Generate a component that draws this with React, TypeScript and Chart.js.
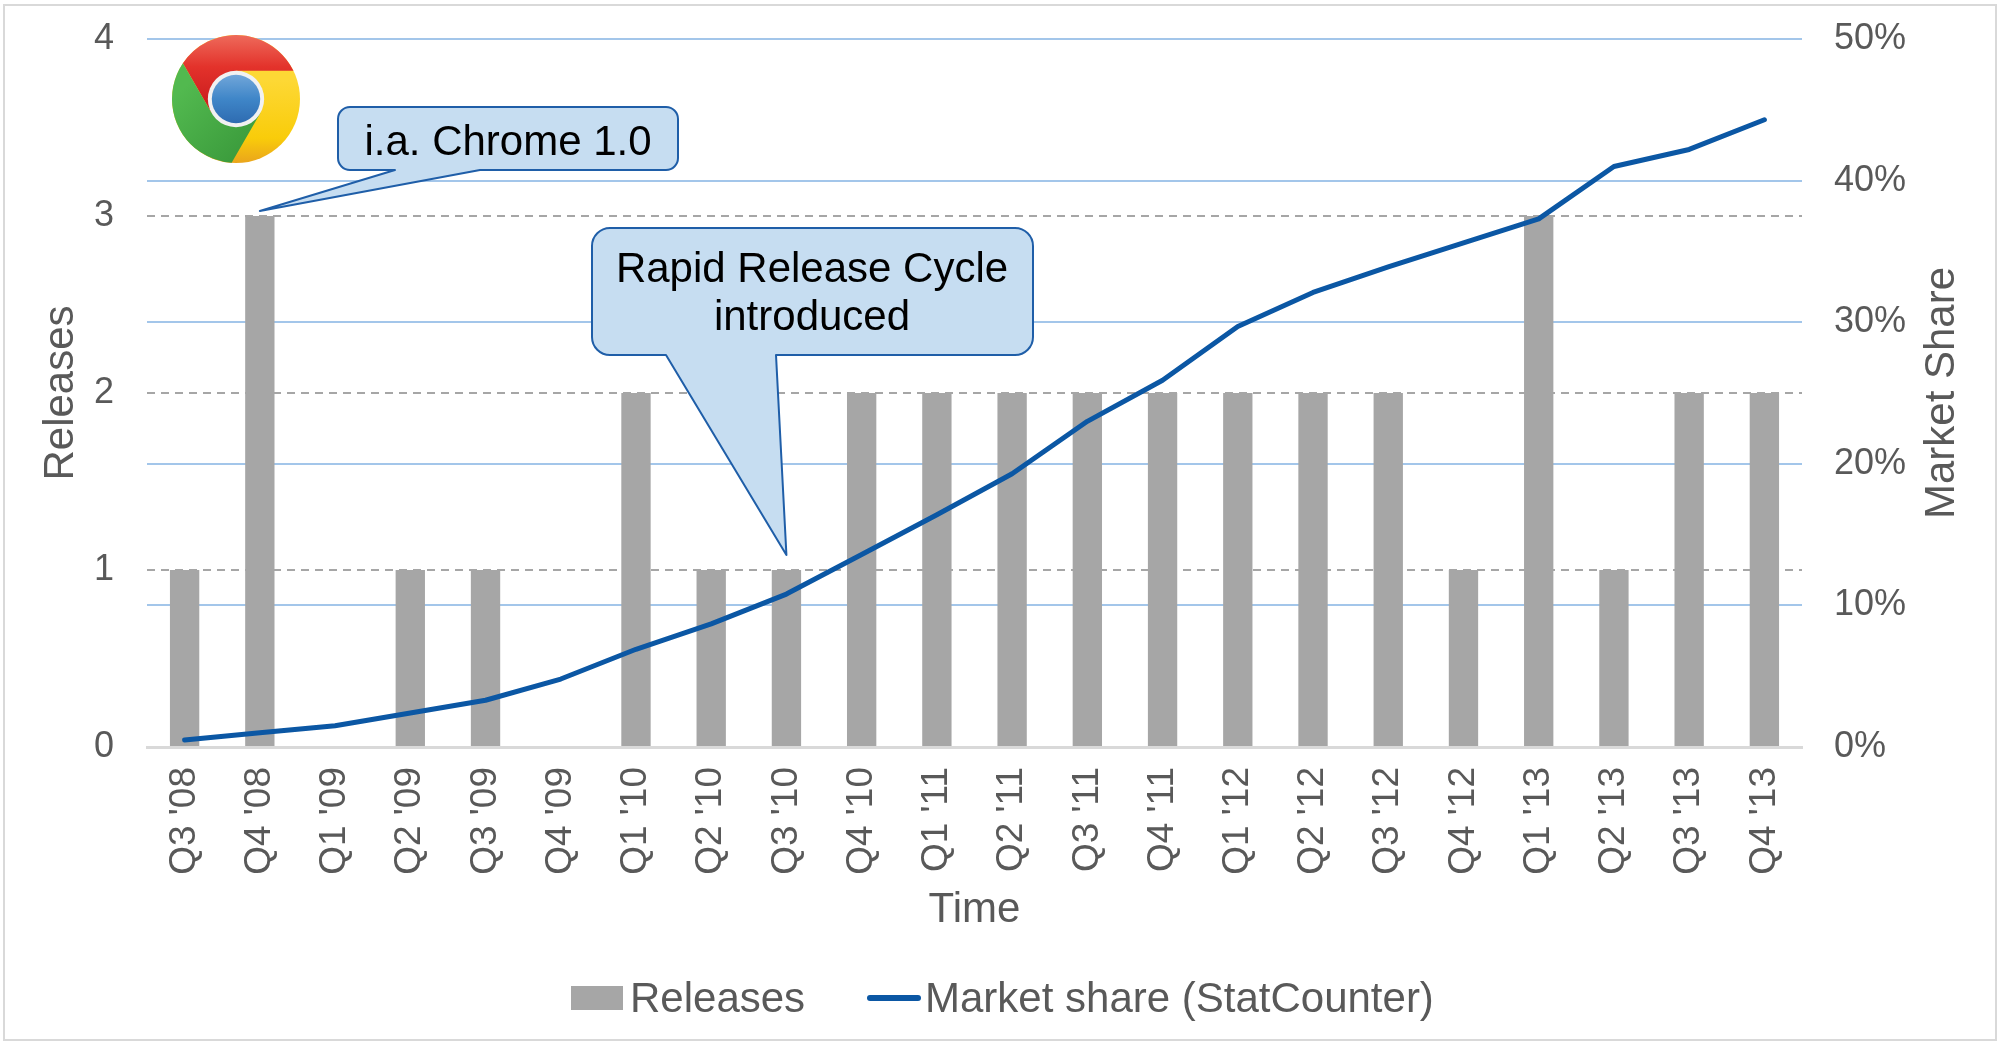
import { useEffect, useRef } from 'react';
import { Chart, registerables } from 'chart.js';

Chart.register(...registerables);

const FONT = '"Liberation Sans", Arial, Helvetica, sans-serif';
const TEXT_GRAY = '#595959';

const quarters = [
  "Q3 '08", "Q4 '08", "Q1 '09", "Q2 '09", "Q3 '09", "Q4 '09",
  "Q1 '10", "Q2 '10", "Q3 '10", "Q4 '10", "Q1 '11", "Q2 '11",
  "Q3 '11", "Q4 '11", "Q1 '12", "Q2 '12", "Q3 '12", "Q4 '12",
  "Q1 '13", "Q2 '13", "Q3 '13", "Q4 '13",
];
const releases = [1, 3, 0, 1, 1, 0, 2, 1, 1, 2, 2, 2, 2, 2, 2, 2, 2, 1, 3, 1, 2, 2];
const marketShare = [
  0.5, 1.0, 1.5, 2.4, 3.3, 4.8, 6.9, 8.7, 10.8, 13.6, 16.4,
  19.3, 23.0, 25.9, 29.7, 32.1, 33.9, 35.6, 37.3, 41.0, 42.2, 44.3,
];
const releaseAxis = { min: 0, max: 4, step: 1 };
const shareAxis = { min: 0, max: 50, step: 10 };
const seriesNames = ['Releases', 'Market share (StatCounter)'];
const axisTitles = { left: 'Releases', right: 'Market Share', bottom: 'Time' };
const callout1Lines = ['i.a. Chrome 1.0'];
const callout2Lines = ['Rapid Release Cycle', 'introduced'];

const BAR_COLOR = '#a6a6a6';
const LINE_COLOR = '#0b57a4';

function roundedCallout(ctx: CanvasRenderingContext2D, x: number, y: number, w: number, h: number, r: number,
  ta: number, tb: number, tipX: number, tipY: number) {
  const bottom = y + h;
  ctx.beginPath();
  ctx.moveTo(x + r, y);
  ctx.lineTo(x + w - r, y);
  ctx.arcTo(x + w, y, x + w, y + r, r);
  ctx.lineTo(x + w, bottom - r);
  ctx.arcTo(x + w, bottom, x + w - r, bottom, r);
  ctx.lineTo(tb, bottom);
  ctx.lineTo(tipX, tipY);
  ctx.lineTo(ta, bottom);
  ctx.lineTo(x + r, bottom);
  ctx.arcTo(x, bottom, x, bottom - r, r);
  ctx.lineTo(x, y + r);
  ctx.arcTo(x, y, x + r, y, r);
  ctx.closePath();
  ctx.fillStyle = '#c6ddf1';
  ctx.fill();
  ctx.lineWidth = 2;
  ctx.strokeStyle = '#1f5ea8';
  ctx.lineJoin = 'round';
  ctx.stroke();
}

function drawChromeLogo(ctx: CanvasRenderingContext2D, cx: number, cy: number, R: number) {
  const rIn = R * 0.44;
  const t = Math.sqrt(R * R - rIn * rIn);
  const d2r = Math.PI / 180;
  const angles = [-90, 30, 150].map((a) => a * d2r);
  const dirs = [0, 120, 240].map((a) => a * d2r);
  const P = angles.map((a) => [cx + rIn * Math.cos(a), cy + rIn * Math.sin(a)]);
  const Q = P.map((p, i) => [p[0] + t * Math.cos(dirs[i]), p[1] + t * Math.sin(dirs[i])]);
  const ang = (q: number[]) => Math.atan2(q[1] - cy, q[0] - cx);

  ctx.save();
  const yg = ctx.createLinearGradient(cx, cy - R * 0.3, cx, cy + R);
  yg.addColorStop(0, '#fdd835');
  yg.addColorStop(0.7, '#f9cc0a');
  yg.addColorStop(1, '#eaa51c');
  ctx.beginPath();
  ctx.arc(cx, cy, R, 0, Math.PI * 2);
  ctx.fillStyle = yg;
  ctx.fill();
  const rg = ctx.createLinearGradient(cx, cy - R, cx, cy);
  rg.addColorStop(0, '#ee6a5b');
  rg.addColorStop(0.5, '#e3322b');
  rg.addColorStop(1, '#cf2020');
  ctx.beginPath();
  ctx.moveTo(P[0][0], P[0][1]);
  ctx.lineTo(Q[0][0], Q[0][1]);
  ctx.arc(cx, cy, R, ang(Q[0]), ang(Q[2]), true);
  ctx.lineTo(P[2][0], P[2][1]);
  ctx.closePath();
  ctx.fillStyle = rg;
  ctx.fill();
  const gg = ctx.createLinearGradient(cx - R, cy, cx, cy + R);
  gg.addColorStop(0, '#52b94f');
  gg.addColorStop(1, '#3b9b3c');
  ctx.beginPath();
  ctx.moveTo(P[2][0], P[2][1]);
  ctx.lineTo(Q[2][0], Q[2][1]);
  ctx.arc(cx, cy, R, ang(Q[2]), ang(Q[1]), true);
  ctx.lineTo(P[1][0], P[1][1]);
  ctx.closePath();
  ctx.fillStyle = gg;
  ctx.fill();
  ctx.beginPath();
  ctx.arc(cx, cy, rIn, 0, Math.PI * 2);
  ctx.fillStyle = '#f1f1f1';
  ctx.fill();
  const bg = ctx.createLinearGradient(cx, cy - rIn, cx, cy + rIn);
  bg.addColorStop(0, '#79abdc');
  bg.addColorStop(0.5, '#3f86c8');
  bg.addColorStop(1, '#2b67ad');
  ctx.beginPath();
  ctx.arc(cx, cy, rIn * 0.86, 0, Math.PI * 2);
  ctx.fillStyle = bg;
  ctx.fill();
  ctx.restore();
}

const decorPlugin = {
  id: 'decor',
  beforeDraw(chart: any) {
    const ctx: CanvasRenderingContext2D = chart.ctx;
    ctx.save();
    ctx.fillStyle = '#ffffff';
    ctx.fillRect(0, 0, chart.width, chart.height);
    ctx.strokeStyle = '#d9d9d9';
    ctx.lineWidth = 2;
    ctx.strokeRect(4, 5, chart.width - 9, chart.height - 7);
    ctx.restore();
  },
  afterDraw(chart: any) {
    const ctx: CanvasRenderingContext2D = chart.ctx;
    const area = chart.chartArea;
    const xs = chart.scales.x;
    const ys = chart.scales.y;
    const midY = (area.top + area.bottom) / 2;
    ctx.save();

    // axis titles
    ctx.fillStyle = TEXT_GRAY;
    ctx.font = `42px ${FONT}`;
    ctx.textAlign = 'center';
    ctx.textBaseline = 'middle';
    ctx.save();
    ctx.translate(61, midY);
    ctx.rotate(-Math.PI / 2);
    ctx.fillText(axisTitles.left, 0, 0);
    ctx.restore();
    ctx.save();
    ctx.translate(1942, midY);
    ctx.rotate(-Math.PI / 2);
    ctx.fillText(axisTitles.right, 0, 0);
    ctx.restore();
    ctx.fillText(axisTitles.bottom, (area.left + area.right) / 2, 910);

    // legend
    const ds = chart.data.datasets;
    const barDs = ds.find((d: any) => d.type === 'bar');
    const lineDs = ds.find((d: any) => d.type === 'line');
    ctx.textAlign = 'left';
    ctx.textBaseline = 'alphabetic';
    ctx.fillStyle = barDs.backgroundColor;
    ctx.fillRect(571, 986, 52, 24);
    ctx.fillStyle = TEXT_GRAY;
    ctx.fillText(barDs.label, 630, 1012);
    ctx.strokeStyle = lineDs.borderColor;
    ctx.lineWidth = 6;
    ctx.lineCap = 'round';
    ctx.beginPath();
    ctx.moveTo(870, 998);
    ctx.lineTo(918, 998);
    ctx.stroke();
    ctx.fillText(lineDs.label, 925, 1012);

    // chrome logo
    drawChromeLogo(ctx, 236, 99, 64);

    // callout 1
    const tip1x = xs.getPixelForValue(1);
    const tip1y = ys.getPixelForValue(releases[1]) - 5;
    roundedCallout(ctx, 338, 107, 340, 63, 12, 395, 480, tip1x, tip1y);
    ctx.fillStyle = '#000000';
    ctx.font = `42px ${FONT}`;
    ctx.textAlign = 'center';
    ctx.textBaseline = 'alphabetic';
    ctx.fillText(callout1Lines[0], 508, 155);

    // callout 2
    const tip2x = xs.getPixelForValue(8);
    const tip2y = ys.getPixelForValue(releases[8]) - 15;
    roundedCallout(ctx, 592, 228, 441, 127, 18, 666, 776, tip2x, tip2y);
    ctx.fillStyle = '#000000';
    ctx.fillText(callout2Lines[0], 812, 282);
    ctx.fillText(callout2Lines[1], 812, 330);

    ctx.restore();
  },
};

export default function App() {
  const canvasRef = useRef<HTMLCanvasElement | null>(null);

  useEffect(() => {
    document.body.style.margin = '0';
    const canvas = canvasRef.current;
    if (!canvas) return;
    Chart.defaults.font.family = FONT;

    const chart = new Chart(canvas, {
      type: 'bar',
      data: {
        labels: quarters,
        datasets: [
          {
            type: 'line',
            label: seriesNames[1],
            data: marketShare,
            yAxisID: 'y1',
            borderColor: LINE_COLOR,
            backgroundColor: LINE_COLOR,
            borderWidth: 5,
            pointRadius: 0,
            tension: 0,
            borderCapStyle: 'round',
            borderJoinStyle: 'round',
            order: 0,
          } as any,
          {
            type: 'bar',
            label: seriesNames[0],
            data: releases,
            yAxisID: 'y',
            backgroundColor: BAR_COLOR,
            borderWidth: 0,
            categoryPercentage: 1,
            barPercentage: 0.39,
            order: 1,
          },
        ],
      },
      options: {
        responsive: false,
        animation: false,
        devicePixelRatio: 1,
        layout: { padding: { left: 0, right: 0, top: 39, bottom: 103 } },
        plugins: {
          legend: { display: false },
          tooltip: { enabled: false },
        },
        scales: {
          x: {
            offset: true,
            grid: { display: false },
            border: { display: true, color: '#d9d9d9', width: 3 },
            ticks: {
              autoSkip: false,
              minRotation: 90,
              maxRotation: 90,
              padding: 12,
              color: TEXT_GRAY,
              font: { size: 37, family: FONT },
            },
            afterFit: (s: any) => { s.height = 192; },
          },
          y: {
            position: 'left',
            min: releaseAxis.min,
            max: releaseAxis.max,
            ticks: {
              stepSize: releaseAxis.step,
              padding: 33,
              color: TEXT_GRAY,
              font: { size: 36, family: FONT },
            },
            grid: {
              drawTicks: false,
              lineWidth: 2,
              color: (c: any) => (c.tick && c.tick.value === 0 ? 'rgba(0,0,0,0)' : '#a6a6a6'),
            },
            border: { display: false, dash: [8, 6] },
            afterFit: (s: any) => { s.width = 147; s.paddingTop = 0; s.paddingBottom = 0; },
          },
          y1: {
            position: 'right',
            min: shareAxis.min,
            max: shareAxis.max,
            ticks: {
              stepSize: shareAxis.step,
              padding: 32,
              color: TEXT_GRAY,
              font: { size: 36, family: FONT },
              callback: (v: any) => `${v}%`,
            },
            grid: {
              drawTicks: false,
              lineWidth: 2,
              color: (c: any) => (c.tick && c.tick.value === 0 ? 'rgba(0,0,0,0)' : '#a3c6ea'),
            },
            border: { display: false },
            afterFit: (s: any) => { s.width = 199; s.paddingTop = 0; s.paddingBottom = 0; },
          },
        },
      },
      plugins: [decorPlugin],
    });

    return () => chart.destroy();
  }, []);

  return (
    <div style={{ width: 2001, height: 1042 }}>
      <canvas ref={canvasRef} width={2001} height={1042} style={{ display: 'block' }} />
    </div>
  );
}
